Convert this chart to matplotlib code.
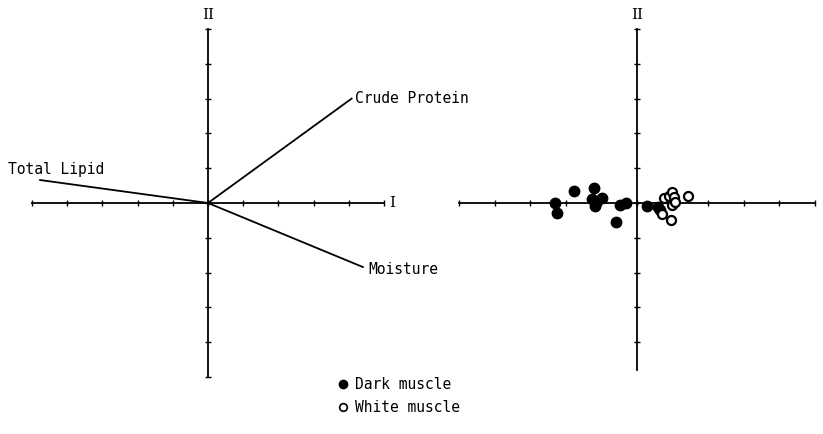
import numpy as np
import matplotlib
matplotlib.use("Agg")
from matplotlib import pyplot as plt
from matplotlib.lines import Line2D

## loadings (left panel)
var_names = ["Crude Protein", "Total Lipid", "Moisture"]
load_x = [4.08, -4.77, 4.40]
load_y = [3.00, 0.66, -1.84]

## scores (right panel)
dark_x = [-2.30, -2.25, -1.78, -1.22, -1.26, -1.19, -0.97, -0.58, -0.48, -0.32, 0.27, 0.60, 0.66, 0.97]
dark_y = [0.00, -0.29, 0.34, 0.44, 0.12, -0.09, 0.14, -0.56, -0.07, 0.00, -0.10, -0.12, -0.21, 0.02]
white_x = [0.71, 0.75, 0.90, 0.99, 1.03, 0.99, 1.44, 0.96, 1.08]
white_y = [-0.31, 0.15, 0.21, 0.31, 0.17, -0.07, 0.21, -0.50, 0.04]

ticks = np.arange(-5, 6)

W, H = 823, 434
fig = plt.figure(figsize=(W / 100, H / 100), dpi=100)
mono = "DejaVu Sans Mono"
lw = 1.3


def make_axes(x0, x1, y0, y1):
    ax = fig.add_axes([x0 / W, 1 - y1 / H, (x1 - x0) / W, (y1 - y0) / H])
    ax.set_xlim(-5, 5)
    ax.set_ylim(-5, 5)
    ax.axis("off")
    return ax


def draw_cross(ax, ybottom=-5):
    ax.plot([-5, 5], [0, 0], color="black", lw=lw, clip_on=False)
    ax.plot([0, 0], [ybottom, 5], color="black", lw=lw, clip_on=False)
    ax.plot(ticks, np.zeros_like(ticks), ls="none", marker="|", ms=4, color="black", mew=1, clip_on=False)
    yt = ticks[ticks >= ybottom]
    ax.plot(np.zeros_like(yt), yt, ls="none", marker="_", ms=4, color="black", mew=1, clip_on=False)
    ax.text(0, 5.2, "II", family="DejaVu Serif", fontsize=11, ha="center", va="bottom")


# Left panel: variable vectors
ax1 = make_axes(32, 384, 29, 377)
draw_cross(ax1)
ax1.text(5.15, 0, "I", family="DejaVu Serif", fontsize=11, ha="left", va="center")
offsets = {"Crude Protein": (3, 0, "left"), "Total Lipid": (-32, 11, "left"), "Moisture": (5, -2, "left")}
for name, lx, ly in zip(var_names, load_x, load_y):
    ax1.plot([0, lx], [0, ly], color="black", lw=lw, clip_on=False)
    dx, dy, ha = offsets[name]
    ax1.annotate(name, (lx, ly), xytext=(dx, dy), textcoords="offset pixels",
                 family=mono, fontsize=10.5, ha=ha, va="center")

# Right panel: sample scores
ax2 = make_axes(459, 815, 29, 377)
draw_cross(ax2, ybottom=-4.8)
ax2.plot(dark_x, dark_y, ls="none", marker="o", ms=7.5, color="black", clip_on=False)
ax2.plot(white_x, white_y, ls="none", marker="o", ms=6.5, mfc="white", mec="black", mew=1.6, clip_on=False)

handles = [
    Line2D([], [], ls="none", marker="o", ms=6, color="black"),
    Line2D([], [], ls="none", marker="o", ms=5.5, mfc="white", mec="black", mew=1.2),
]
fig.legend(handles, ["Dark muscle", "White muscle"], loc="upper left",
           bbox_to_anchor=(330 / W, 1 - 370 / H), frameon=False,
           prop={"family": mono, "size": 10.5}, handlelength=0.8,
           handletextpad=0.4, labelspacing=0.55, borderpad=0)

fig.savefig("out.png", dpi=100)
